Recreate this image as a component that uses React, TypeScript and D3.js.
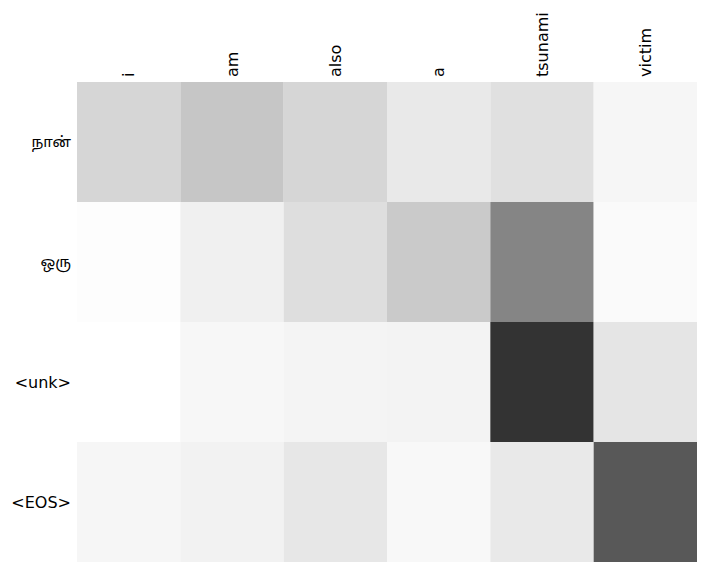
import React from "react";
import * as d3 from "d3";

const sourceTokens = ["i", "am", "also", "a", "tsunami", "victim"];
const targetTokens = ["நான்", "ஒரு", "<unk>", "<EOS>"];
const attention: number[][] = [
  [0.16, 0.224, 0.16, 0.086, 0.122, 0.035],
  [0.006, 0.059, 0.129, 0.208, 0.478, 0.02],
  [0.0, 0.031, 0.043, 0.047, 0.8, 0.102],
  [0.035, 0.051, 0.094, 0.027, 0.086, 0.655],
];

const isTamil = (s: string) => /[\u0B80-\u0BFF]/.test(s);

export default function App() {
  const width = 707;
  const height = 572;
  const left = 77, right = 697, top = 82, bottom = 562;
  const x = d3.scaleBand<string>().domain(sourceTokens).range([left, right]);
  const y = d3.scaleBand<string>().domain(targetTokens).range([top, bottom]);
  const color = d3.scaleLinear<string>().domain([0, 1]).range(["#ffffff", "#000000"]);
  const font = "DejaVu Sans, sans-serif";
  return (
    <svg width={width} height={height} style={{ position: "absolute", left: 0, top: 0 }}>
      <rect width={width} height={height} fill="#fff" />
      {attention.map((row, i) =>
        row.map((v, j) => (
          <rect
            key={`${i}-${j}`}
            x={x(sourceTokens[j])}
            y={y(targetTokens[i])}
            width={x.bandwidth()}
            height={y.bandwidth()}
            fill={color(v)}
          />
        ))
      )}
      {sourceTokens.map((t) => {
        const cx = (x(t) as number) + x.bandwidth() / 2;
        return (
          <text
            key={t}
            transform={`translate(${cx + 5.5},77) rotate(-90)`}
            fontFamily={font}
            fontSize={16}
            textAnchor="start"
            fill="#000"
          >
            {t}
          </text>
        );
      })}
      {targetTokens.map((t) => {
        const cy = (y(t) as number) + y.bandwidth() / 2;
        const tamil = isTamil(t);
        return (
          <text
            key={t}
            x={71}
            y={cy}
            dy="0.35em"
            fontFamily={tamil ? "'Noto Sans Tamil', 'Lohit Tamil', DejaVu Sans, sans-serif" : font}
            fontSize={tamil ? 15 : 16}
            textAnchor="end"
            fill="#000"
          >
            {t}
          </text>
        );
      })}
    </svg>
  );
}
